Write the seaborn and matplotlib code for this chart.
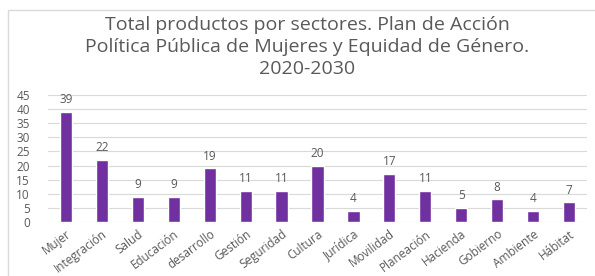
import pandas as pd
import matplotlib
matplotlib.use("Agg")
import matplotlib.pyplot as plt
import seaborn as sns
from matplotlib.patches import Rectangle

sectores = ["Mujer", "Integración", "Salud", "Educación", "desarrollo", "Gestión",
            "Seguridad", "Cultura", "Jurídica", "Movilidad", "Planeación", "Hacienda",
            "Gobierno", "Ambiente", "Hábitat"]
productos = [39, 22, 9, 9, 19, 11, 11, 20, 4, 17, 11, 5, 8, 4, 7]
y_ticks = [0, 5, 10, 15, 20, 25, 30, 35, 40, 45]

titulo = ("Total productos por sectores. Plan de Acción\n"
          "Política Pública de Mujeres y Equidad de Género.\n"
          "2020-2030")

TEXT = "#595959"
PURPLE = "#7030A0"


def main():
    sns.set_theme(style="white")
    plt.rcParams["font.family"] = ["Open Sans", "DejaVu Sans"]

    df = pd.DataFrame({"sector": sectores, "total": productos})

    fig = plt.figure(figsize=(5.95, 2.76), dpi=100)
    ax = fig.add_axes([48 / 595, 1 - 222 / 276, 539 / 595, 127 / 276])

    sns.barplot(data=df, x="sector", y="total", color=PURPLE, width=0.34,
                saturation=1, ax=ax, zorder=3)

    for i, v in enumerate(productos):
        ax.text(i, v + 2.0, str(v), ha="center", va="bottom", fontsize=8.5, color=TEXT)

    ax.set_ylim(0, 45)
    ax.set_yticks(y_ticks)
    ax.set_xlim(-0.5, len(sectores) - 0.5)
    ax.yaxis.grid(True, color="#d9d9d9", linewidth=0.8, zorder=0)
    ax.set_xlabel("")
    ax.set_ylabel("")
    for s in ax.spines.values():
        s.set_visible(False)
    ax.tick_params(axis="y", labelsize=8.5, labelcolor=TEXT, length=0, pad=13)
    ax.tick_params(axis="x", labelsize=8.5, labelcolor=TEXT, length=0, pad=4)
    plt.setp(ax.get_xticklabels(), rotation=37, ha="right", rotation_mode="anchor")

    fig.text(307 / 595, 1 - 47 / 276, titulo, ha="center", va="center", fontsize=14,
             color=TEXT, linespacing=1.25)

    fig.patches.append(Rectangle((8 / 595, -0.1), 1, 1 - 10 / 276 + 0.1,
                                 transform=fig.transFigure, fill=False,
                                 edgecolor="#d9d9d9", linewidth=1))

    fig.savefig("out.png", dpi=100)


if __name__ == "__main__":
    main()
